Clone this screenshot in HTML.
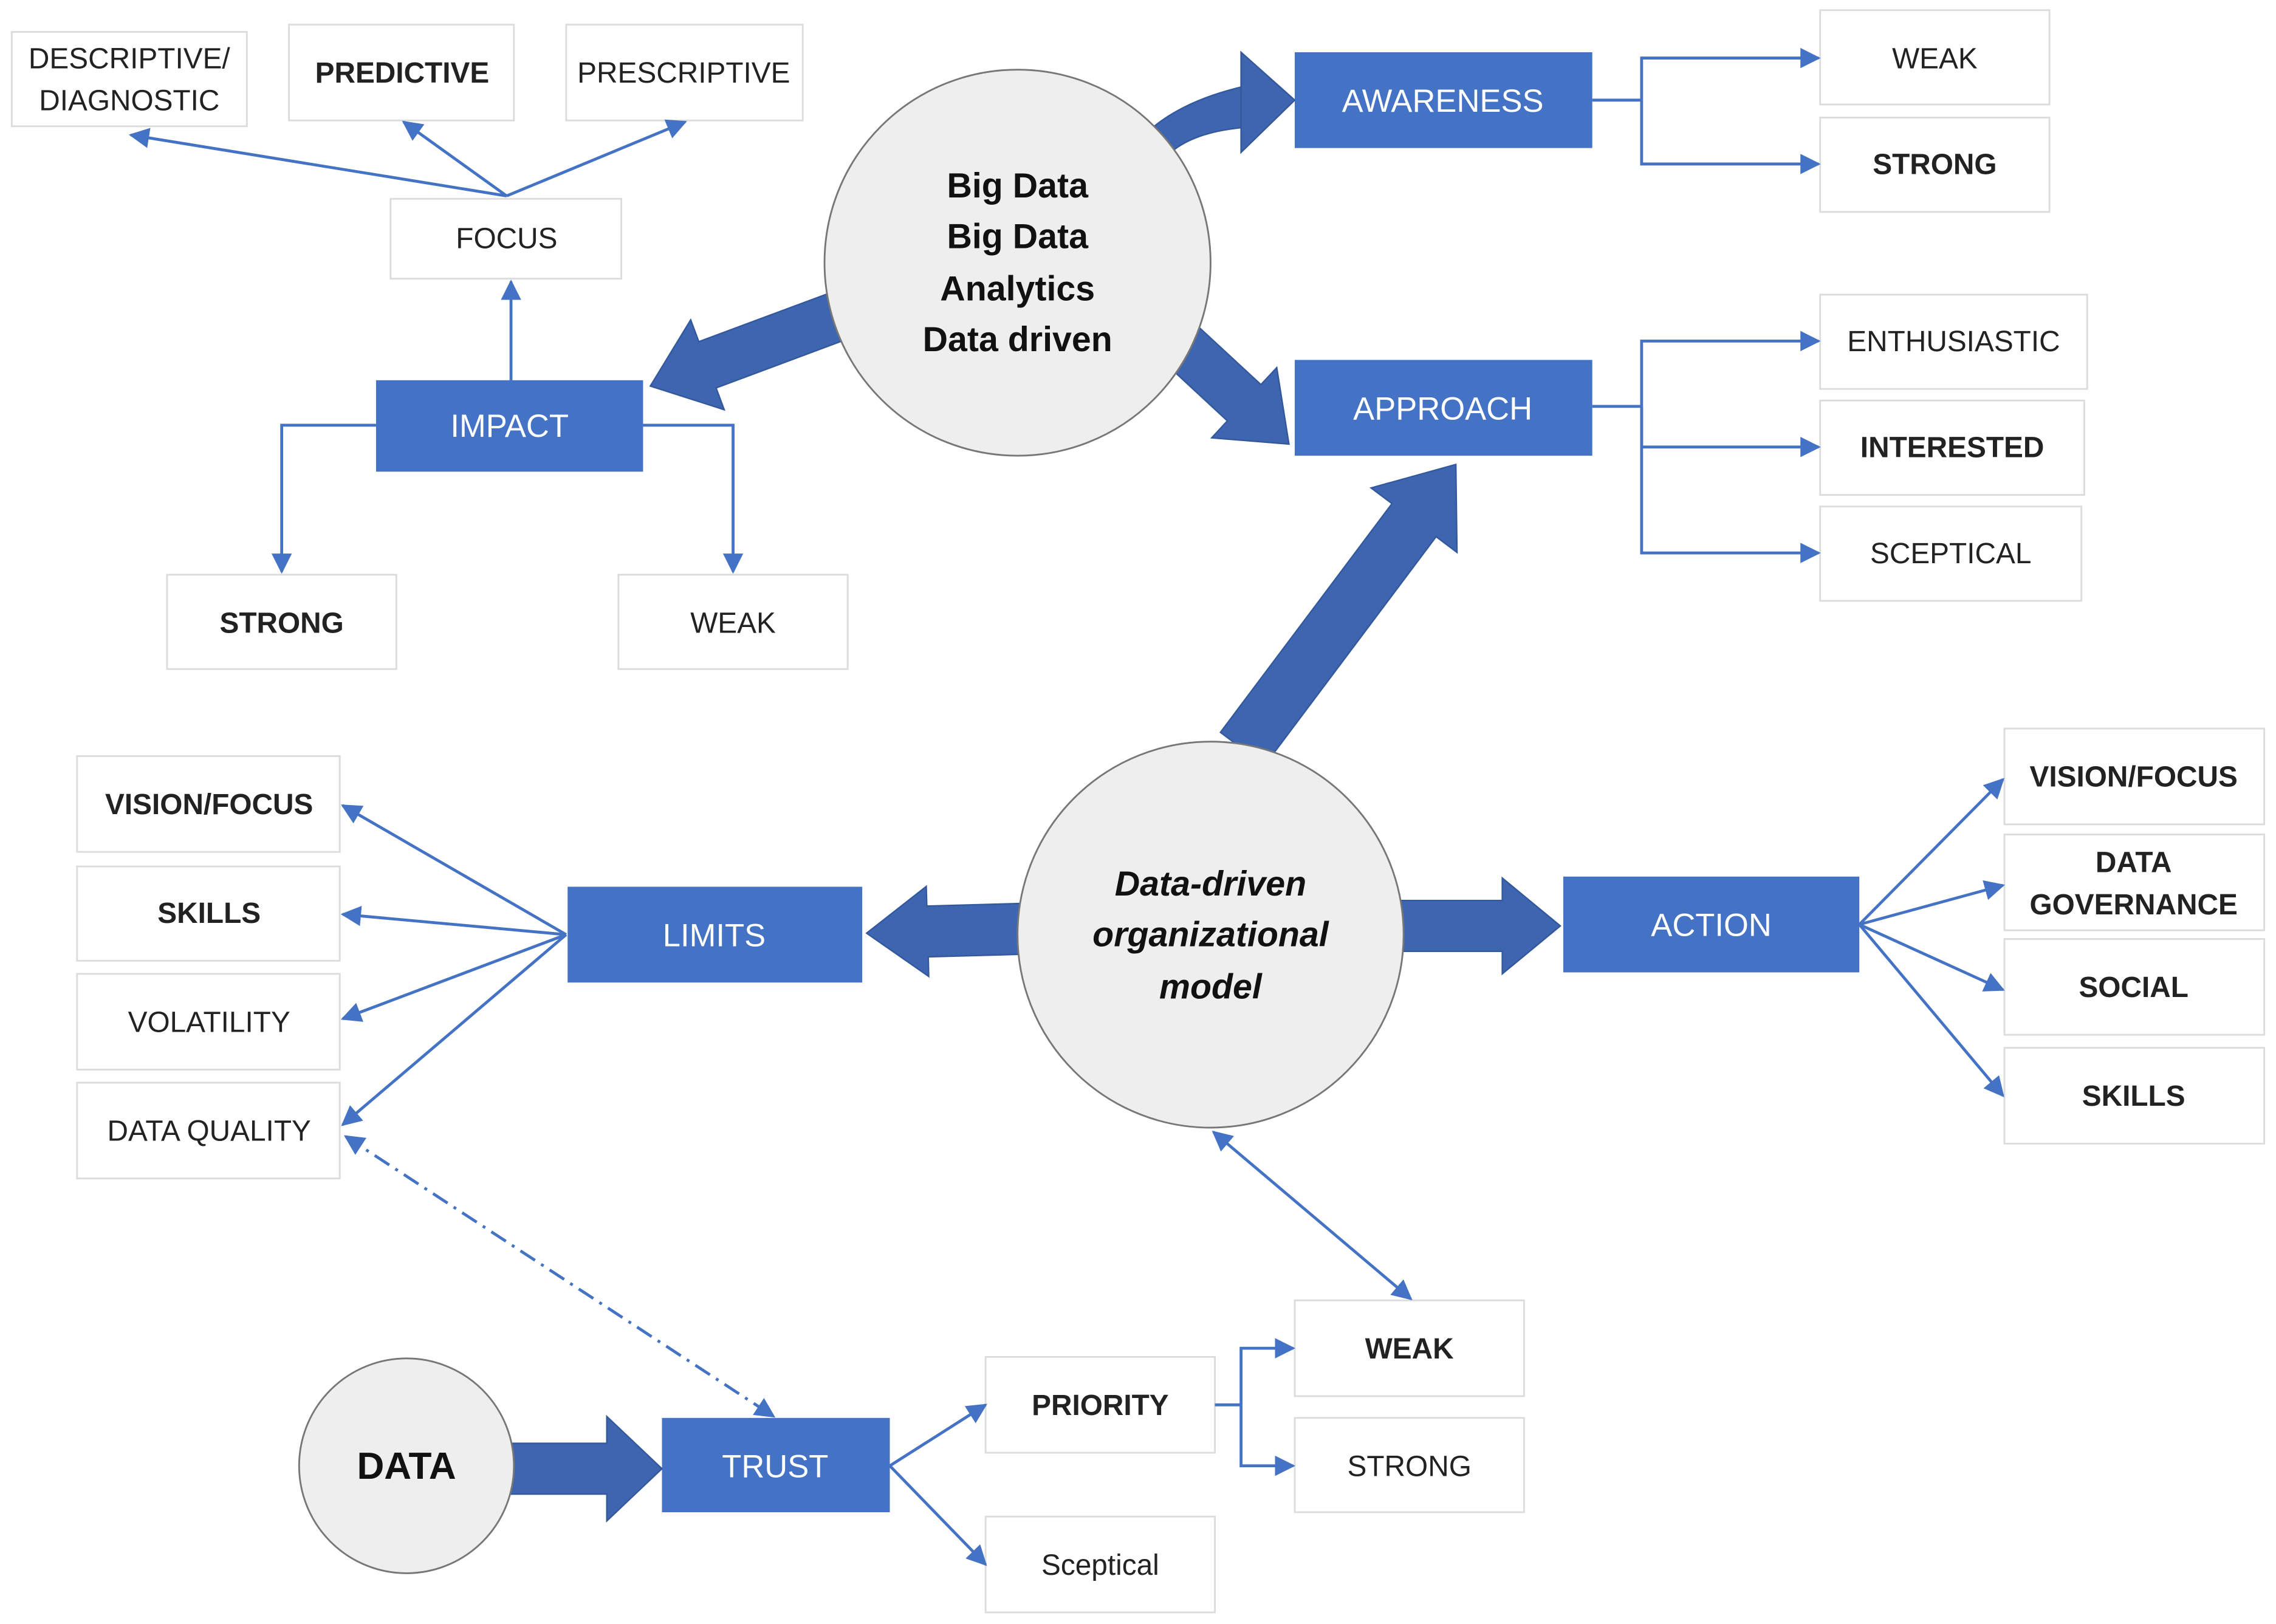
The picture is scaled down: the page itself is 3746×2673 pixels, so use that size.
<!DOCTYPE html>
<html><head><meta charset="utf-8"><style>
html,body{margin:0;padding:0;background:#fff;}
svg{display:block;}
text{font-family:"Liberation Sans",sans-serif;}
</style></head><body>
<svg id="s" width="3746" height="2673" viewBox="0 0 1568 1119" xmlns="http://www.w3.org/2000/svg">
<defs>
<marker id="a" viewBox="0 0 10 10" refX="9" refY="5" markerWidth="14" markerHeight="14" markerUnits="userSpaceOnUse" orient="auto-start-reverse"><path d="M0,0 L10,5 L0,10 z" fill="#4472C4"/></marker>
</defs>
<rect width="1568" height="1119" fill="#fff"/>
<g fill="#fff" stroke="#dcdcdc" stroke-width="1.2">
<rect x="8" y="22" width="162" height="65"/>
<rect x="199" y="17" width="155" height="66"/>
<rect x="390" y="17" width="163" height="66"/>
<rect x="269" y="137" width="159" height="55"/>
<rect x="115" y="396" width="158" height="65"/>
<rect x="426" y="396" width="158" height="65"/>
<rect x="1254" y="7" width="158" height="65"/>
<rect x="1254" y="81" width="158" height="65"/>
<rect x="1254" y="203" width="184" height="65"/>
<rect x="1254" y="276" width="182" height="65"/>
<rect x="1254" y="349" width="180" height="65"/>
<rect x="53" y="521" width="181" height="66"/>
<rect x="53" y="597" width="181" height="65"/>
<rect x="53" y="671" width="181" height="66"/>
<rect x="53" y="746" width="181" height="66"/>
<rect x="1381" y="502" width="179" height="66"/>
<rect x="1381" y="575" width="179" height="66"/>
<rect x="1381" y="647" width="179" height="66"/>
<rect x="1381" y="722" width="179" height="66"/>
<rect x="679" y="935" width="158" height="66"/>
<rect x="679" y="1045" width="158" height="66"/>
<rect x="892" y="896" width="158" height="66"/>
<rect x="892" y="977" width="158" height="65"/>
</g>
<g fill="#4472C4">
<rect x="259" y="262" width="184" height="63"/>
<rect x="892" y="36" width="205" height="66"/>
<rect x="892" y="248" width="205" height="66"/>
<rect x="391" y="611" width="203" height="66"/>
<rect x="1077" y="604" width="204" height="66"/>
<rect x="456" y="977" width="157" height="65"/>
</g>
<!-- thick arrows -->
<g fill="#3D65B0" stroke="#34589c" stroke-width="1">
<path d="M782,100 Q805,72 855,60 L855,88 Q815,92 800,112 Z"/>
<polygon points="855,36 892,69 855,105"/>
<polygon id="t1" points=""/>
<polygon id="t2" points=""/>
<polygon id="t3" points=""/>
<polygon id="t4" points=""/>
<polygon id="t5" points=""/>
<polygon id="t6" points=""/>
</g>
<g fill="#eeeeee" stroke="#777" stroke-width="1.2">
<circle cx="701" cy="181" r="133"/>
<circle cx="834" cy="644" r="133"/>
<circle cx="280" cy="1010" r="74"/>
</g>
<!-- thin connectors -->
<g stroke="#4472C4" stroke-width="2" fill="none">
<line x1="349" y1="135" x2="90" y2="93" marker-end="url(#a)"/>
<line x1="349" y1="135" x2="278" y2="84" marker-end="url(#a)"/>
<line x1="349" y1="135" x2="472" y2="84" marker-end="url(#a)"/>
<line x1="352" y1="262" x2="352" y2="194" marker-end="url(#a)"/>
<polyline points="259,293 194,293 194,394" marker-end="url(#a)"/>
<polyline points="443,293 505,293 505,394" marker-end="url(#a)"/>
<line x1="1097" y1="69" x2="1131" y2="69"/>
<polyline points="1131,69 1131,40 1253,40" marker-end="url(#a)"/>
<polyline points="1131,69 1131,113 1253,113" marker-end="url(#a)"/>
<line x1="1097" y1="280" x2="1131" y2="280"/>
<polyline points="1131,280 1131,235 1253,235" marker-end="url(#a)"/>
<polyline points="1131,280 1131,308 1253,308" marker-end="url(#a)"/>
<polyline points="1131,280 1131,381 1253,381" marker-end="url(#a)"/>
<line x1="390" y1="644" x2="236" y2="555" marker-end="url(#a)"/>
<line x1="390" y1="644" x2="236" y2="630" marker-end="url(#a)"/>
<line x1="390" y1="644" x2="236" y2="702" marker-end="url(#a)"/>
<line x1="390" y1="644" x2="236" y2="775" marker-end="url(#a)"/>
<line x1="1281" y1="637" x2="1380" y2="537" marker-end="url(#a)"/>
<line x1="1281" y1="637" x2="1380" y2="610" marker-end="url(#a)"/>
<line x1="1281" y1="637" x2="1380" y2="682" marker-end="url(#a)"/>
<line x1="1281" y1="637" x2="1380" y2="755" marker-end="url(#a)"/>
<line x1="836" y1="780" x2="972" y2="895" marker-start="url(#a)" marker-end="url(#a)"/>
<line x1="238" y1="783" x2="533" y2="976" stroke-dasharray="12,5,2,5" marker-start="url(#a)" marker-end="url(#a)"/>
<line x1="613" y1="1010" x2="679" y2="968" marker-end="url(#a)"/>
<line x1="613" y1="1010" x2="679" y2="1078" marker-end="url(#a)"/>
<line x1="837" y1="968" x2="855" y2="968"/>
<polyline points="855,968 855,929 891,929" marker-end="url(#a)"/>
<polyline points="855,968 855,1010 891,1010" marker-end="url(#a)"/>
</g>
<!-- texts -->
<g font-size="20" fill="#222" text-anchor="middle">
<text x="89" y="47">DESCRIPTIVE/</text>
<text x="89" y="76">DIAGNOSTIC</text>
<text x="277" y="57" font-weight="bold">PREDICTIVE</text>
<text x="471" y="57">PRESCRIPTIVE</text>
<text x="349" y="171">FOCUS</text>
<text x="194" y="436" font-weight="bold">STRONG</text>
<text x="505" y="436">WEAK</text>
<text x="1333" y="47">WEAK</text>
<text x="1333" y="120" font-weight="bold">STRONG</text>
<text x="1346" y="242">ENTHUSIASTIC</text>
<text x="1345" y="315" font-weight="bold">INTERESTED</text>
<text x="1344" y="388">SCEPTICAL</text>
<text x="144" y="561" font-weight="bold">VISION/FOCUS</text>
<text x="144" y="636" font-weight="bold">SKILLS</text>
<text x="144" y="711">VOLATILITY</text>
<text x="144" y="786">DATA QUALITY</text>
<text x="1470" y="542" font-weight="bold">VISION/FOCUS</text>
<text x="1470" y="601" font-weight="bold">DATA</text>
<text x="1470" y="630" font-weight="bold">GOVERNANCE</text>
<text x="1470" y="687" font-weight="bold">SOCIAL</text>
<text x="1470" y="762" font-weight="bold">SKILLS</text>
<text x="758" y="975" font-weight="bold">PRIORITY</text>
<text x="758" y="1085">Sceptical</text>
<text x="971" y="936" font-weight="bold">WEAK</text>
<text x="971" y="1017">STRONG</text>
</g>
<g font-size="22" fill="#fff" text-anchor="middle">
<text x="351" y="301">IMPACT</text>
<text x="994" y="77">AWARENESS</text>
<text x="994" y="289">APPROACH</text>
<text x="492" y="652">LIMITS</text>
<text x="1179" y="645">ACTION</text>
<text x="534" y="1018">TRUST</text>
</g>
<g font-size="24" font-weight="bold" fill="#111" text-anchor="middle">
<text x="701" y="136">Big Data</text>
<text x="701" y="171">Big Data</text>
<text x="701" y="207">Analytics</text>
<text x="701" y="242">Data driven</text>
<text x="834" y="617" font-style="italic">Data-driven</text>
<text x="834" y="652" font-style="italic">organizational</text>
<text x="834" y="688" font-style="italic">model</text>
<text x="280" y="1019" font-size="26">DATA</text>
</g>
</svg>
<script>
function arr(id,x1,y1,x2,y2,sw,hw,hl){
 var dx=x2-x1,dy=y2-y1,L=Math.hypot(dx,dy),ux=dx/L,uy=dy/L,px=-uy,py=ux;
 var bx=x2-ux*hl,by=y2-uy*hl;
 var p=[[x1+px*sw/2,y1+py*sw/2],[bx+px*sw/2,by+py*sw/2],[bx+px*hw/2,by+py*hw/2],[x2,y2],
 [bx-px*hw/2,by-py*hw/2],[bx-px*sw/2,by-py*sw/2],[x1-px*sw/2,y1-py*sw/2]];
 document.getElementById(id).setAttribute('points',p.map(function(q){return q[0].toFixed(1)+','+q[1].toFixed(1)}).join(' '));
}
arr('t1',585,215,448,266,34,66,42);
arr('t2',808,232,888,306,34,66,42);
arr('t3',856,516,1003,320,38,74,48);
arr('t4',705,640,597,643,35,62,42);
arr('t5',964,638,1075,638,35,66,40);
arr('t6',350,1012,456,1012,35,72,38);
</script>
</body></html>
